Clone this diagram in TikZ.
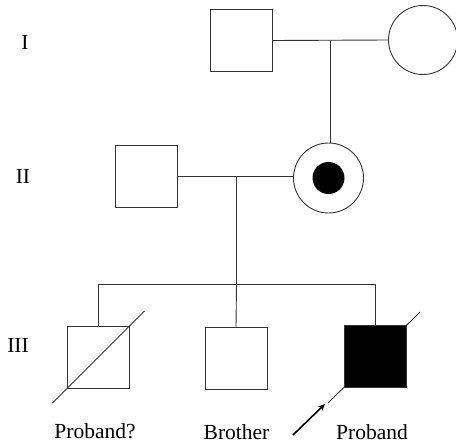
\documentclass[tikz,border=0pt]{standalone}
\usepackage{fontspec}
\setmainfont{Liberation Serif}
\usetikzlibrary{calc,arrows.meta}
\begin{document}
\begin{tikzpicture}[x=1pt,y=-1pt,
  ln/.style={line width=0.9pt, draw=black!80},
  male/.style={draw=black!80, line width=0.9pt, minimum size=62pt, inner sep=0pt, outer sep=0pt},
  female/.style={circle, draw=black!80, line width=0.9pt, minimum size=69pt, inner sep=0pt, outer sep=0pt},
  lbl/.style={font=\fontsize{21.5}{21.5}\selectfont, anchor=base, inner sep=0pt}]
\useasboundingbox (0,0) rectangle (456,444);
% Generation I
\node[male] (gf) at (241.5,40.5) {};
\node[female] (gm) at (423,40) {};
\draw[ln] (gf.east) -- (gm.west);
\coordinate (m1) at ($(gf.east)!0.5!(gm.west)$);
% Generation II
\node[male] (fa) at (146.5,176.5) {};
\node[female, minimum size=70pt] (mo) at (328.5,178) {};
\node[circle, fill=black, minimum size=32pt, inner sep=0pt] (dot) at (mo.center) {};
\draw[ln] (m1) -- (m1 |- mo.north);
\draw[ln] (fa.east) -- (fa.east -| mo.west);
\coordinate (m2) at (236.5,176.5);
\coordinate (sib) at (236.5,284);
\draw[ln] (m2) -- (sib);
% Generation III
\node[male] (c1) at (98.5,357) {};
\node[male] (c2) at (236,358) {};
\draw[ln] ($(c1.south west)+(-15,15)$) -- ($(c1.north east)+(15,-15)$);
\coordinate (rl) at ($(375,357)+(-47,46)$);
\coordinate (ru) at ($(375,357)+(45,-45)$);
\draw[ln] (rl) -- (ru);
\node[male, fill=black] (c3) at (375,356) {};
\draw[ln] (c1.north |- sib) -- (c3.north |- sib);
\draw[ln] (c1.north |- sib) -- (c1.north);
\draw[ln] (sib) -- (c2.north);
\draw[ln] (c3.north |- sib) -- (c3.north);
% arrow
\coordinate (a0) at (293,435);
\coordinate (a1) at (325,404);
\draw[line width=1.6pt, draw=black, -{Stealth[length=7pt,width=6pt]}] (a0) -- (a1);
% labels
\node[lbl] (gI) at (25,50) {I};
\node[lbl] (gII) at (23,183) {II};
\node[lbl] (gIII) at (18,352) {III};
\node[lbl] (l1) at (95,438) {Proband?};
\node[lbl] (l2) at (236.5,439) {Brother};
\node[lbl] (l3) at (372,439) {Proband};
\end{tikzpicture}
\end{document}
